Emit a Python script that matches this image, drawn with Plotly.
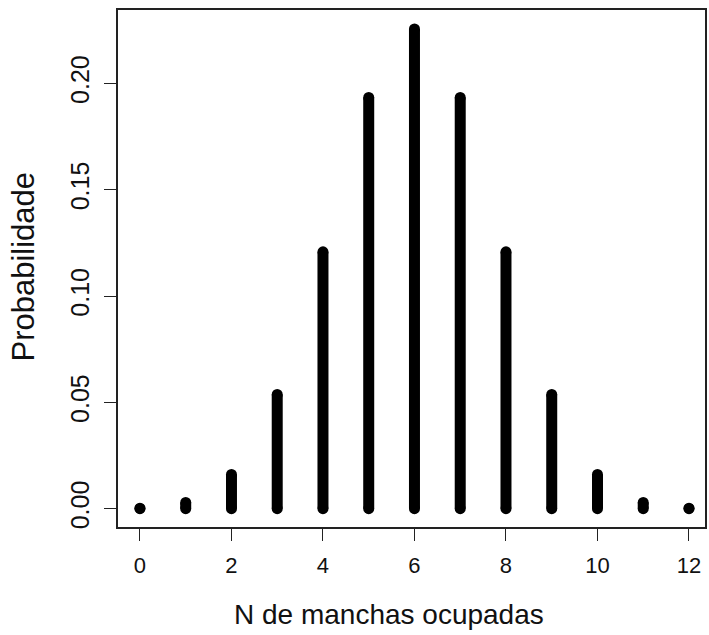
import plotly.graph_objects as go

# Data
n_occupied = [0, 1, 2, 3, 4, 5, 6, 7, 8, 9, 10, 11, 12]
probability = [0.000244, 0.00293, 0.0161, 0.0537, 0.1208, 0.1934, 0.2256,
               0.1934, 0.1208, 0.0537, 0.0161, 0.00293, 0.000244]
x_ticks = [0, 2, 4, 6, 8, 10, 12]
y_ticks = [0.00, 0.05, 0.10, 0.15, 0.20]
y_tick_labels = ["0.00", "0.05", "0.10", "0.15", "0.20"]

fig = go.Figure()
W = 11
for k, p in zip(n_occupied, probability):
    fig.add_trace(go.Scatter(
        x=[k, k], y=[0, p], mode="lines+markers",
        line=dict(color="black", width=W),
        marker=dict(color="black", size=W, line=dict(width=0)),
        showlegend=False, hoverinfo="skip"))

font = "Liberation Sans, Arial, sans-serif"
axis_common = dict(
    showline=True, mirror=True, linecolor="#222", linewidth=1.5,
    ticks="outside", ticklen=12, tickwidth=1, tickcolor="#222",
    showgrid=False, zeroline=False,
)

fig.update_layout(
    width=709, height=635,
    margin=dict(l=118, r=2, t=10, b=108),
    plot_bgcolor="white", paper_bgcolor="white",
    xaxis=dict(range=[-0.48, 12.35], tickvals=x_ticks, **axis_common,
               tickfont=dict(family=font, size=22, color="#111"),
               ticklabelstandoff=6),
    yaxis=dict(range=[-0.0086, 0.2345], tickvals=y_ticks, ticktext=y_tick_labels,
               tickangle=-90, **axis_common,
               tickfont=dict(family=font, size=25, color="#111"),
               ticklabelstandoff=5),
    annotations=[
        dict(text="N de manchas ocupadas", xref="paper", yref="paper",
             x=0.5, y=0, xanchor="center", yanchor="middle", yshift=-87, xshift=-23,
             showarrow=False, font=dict(family=font, size=28, color="#111")),
        dict(text="Probabilidade", xref="paper", yref="paper",
             x=0, y=0.5, xanchor="center", yanchor="middle", xshift=-95, yshift=2,
             textangle=-90, showarrow=False,
             font=dict(family=font, size=31, color="#111")),
    ],
)

fig.write_html("out.html")
